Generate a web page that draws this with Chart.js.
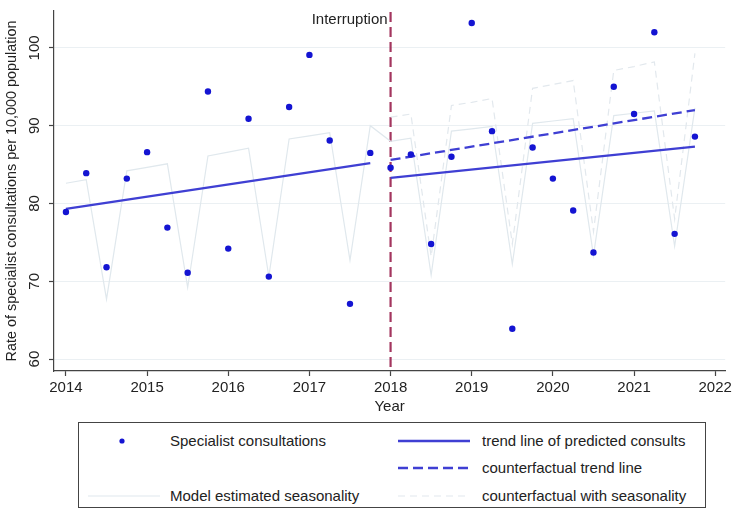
<!DOCTYPE html>
<html>
<head>
<meta charset="utf-8">
<script src="https://cdn.jsdelivr.net/npm/chart.js@4.4.1/dist/chart.umd.min.js"></script>
<style>
html,body{margin:0;padding:0;background:#fff;}
body{width:735px;height:523px;position:relative;overflow:hidden;font-family:"Liberation Sans",Arial,sans-serif;}
#c{position:absolute;left:0;top:0;}
#legendBox{position:absolute;left:78px;top:422px;width:628px;height:86px;border:1px solid #444;box-sizing:border-box;}
.sw{position:absolute;}
.lt{position:absolute;font-size:15px;line-height:18px;color:#222;white-space:nowrap;}
</style>
</head>
<body>
<canvas id="c" width="735" height="420"></canvas>
<div id="legendBox"></div>
<div id="legend"></div>
<script>
// ---- data ----
const quarters = [2014, 2014.25, 2014.5, 2014.75, 2015, 2015.25, 2015.5, 2015.75,
                  2016, 2016.25, 2016.5, 2016.75, 2017, 2017.25, 2017.5, 2017.75,
                  2018, 2018.25, 2018.5, 2018.75, 2019, 2019.25, 2019.5, 2019.75,
                  2020, 2020.25, 2020.5, 2020.75, 2021, 2021.25, 2021.5, 2021.75];
const consults = [78.9, 83.9, 71.8, 83.2, 86.6, 76.9, 71.1, 94.4,
                  74.2, 90.9, 70.6, 92.4, 99.1, 88.1, 67.1, 86.5,
                  84.6, 86.3, 74.8, 86.0, 103.2, 89.3, 63.9, 87.2,
                  83.2, 79.1, 73.7, 95.0, 91.5, 102.0, 76.1, 88.6];
const seasonality = [82.6, 83.05, 67.7, 84.2, 84.65, 85.1, 69.2, 86.1,
                     86.6, 87.1, 70.6, 88.3, 88.7, 89.1, 72.7, 90.0,
                     88.0, 88.4, 70.8, 89.3, 89.6, 89.9, 72.2, 90.3,
                     90.6, 90.9, 73.3, 91.3, 91.6, 91.9, 74.5, 92.3];
const postQuarters = [2018, 2018.25, 2018.5, 2018.75, 2019, 2019.25, 2019.5, 2019.75,
                      2020, 2020.25, 2020.5, 2020.75, 2021, 2021.25, 2021.5, 2021.75];
const cfSeasonality = [91.1, 91.5, 73.2, 92.6, 93.0, 93.5, 74.8, 94.8,
                       95.3, 95.8, 76.4, 97.1, 97.6, 98.2, 78.0, 99.3];
const trendPreX = [2014, 2017.75];
const trendPreY = [79.3, 85.2];
const trendPostX = [2018, 2021.75];
const trendPostY = [83.3, 87.3];
const cfTrendX = [2018, 2021.75];
const cfTrendY = [85.6, 92.0];
const xTicks = [2014, 2015, 2016, 2017, 2018, 2019, 2020, 2021, 2022];
const yTicks = [60, 70, 80, 90, 100];
const interruptionYear = 2018;
const interruptionLabel = 'Interruption';
const labels = {
  consults: 'Specialist consultations',
  trend: 'trend line of predicted consults',
  cfTrend: 'counterfactual trend line',
  season: 'Model estimated seasonality',
  cfSeason: 'counterfactual with seasonality'
};
const xTitle = 'Year';
const yTitle = 'Rate of specialist consultations per 10,000 population';

// ---- styles ----
const FONT = '"Liberation Sans", Arial, sans-serif';
const pointColor = '#1414d2';
const trendColor = '#3f3fd3';
const seasonColor = '#e0e8ed';
const cfSeasonColor = '#e2e8ed';

const pts = (xs, ys) => xs.map((x, i) => ({x: x, y: ys[i]}));

const interruptionPlugin = {
  id: 'interruption',
  beforeDatasetsDraw(chart) {
    const {ctx, chartArea, scales} = chart;
    const px = scales.x.getPixelForValue(interruptionYear);
    ctx.save();
    ctx.strokeStyle = '#a3365f';
    ctx.lineWidth = 2.2;
    ctx.setLineDash([10, 5]);
    ctx.beginPath();
    ctx.moveTo(px, chartArea.top + 1);
    ctx.lineTo(px, chartArea.bottom);
    ctx.stroke();
    ctx.setLineDash([]);
    ctx.fillStyle = '#222';
    ctx.font = '15px ' + FONT;
    ctx.textAlign = 'right';
    ctx.textBaseline = 'middle';
    ctx.fillText(interruptionLabel, px - 3, chartArea.top + 9);
    ctx.restore();
  }
};

const chart = new Chart(document.getElementById('c'), {
  type: 'scatter',
  data: {
    datasets: [
      {label: labels.consults, data: pts(quarters, consults), showLine: false,
       pointRadius: 3.2, pointBackgroundColor: pointColor, pointBorderWidth: 0, pointBorderColor: pointColor},
      {label: labels.trend, data: pts(trendPreX, trendPreY), showLine: true, pointRadius: 0,
       borderColor: trendColor, borderWidth: 2.3},
      {label: labels.trend, data: pts(trendPostX, trendPostY), showLine: true, pointRadius: 0,
       borderColor: trendColor, borderWidth: 2.3},
      {label: labels.cfTrend, data: pts(cfTrendX, cfTrendY), showLine: true, pointRadius: 0,
       borderColor: trendColor, borderWidth: 2.3, borderDash: [10, 5]},
      {label: labels.season, data: pts(quarters, seasonality), showLine: true, pointRadius: 0,
       borderColor: seasonColor, borderWidth: 1.2},
      {label: labels.cfSeason, data: pts(postQuarters, cfSeasonality), showLine: true, pointRadius: 0,
       borderColor: cfSeasonColor, borderWidth: 1.2, borderDash: [7, 5]}
    ]
  },
  options: {
    responsive: false,
    animation: false,
    devicePixelRatio: 1,
    layout: {padding: {left: 0, right: 7, top: 7, bottom: 0}},
    plugins: {legend: {display: false}, tooltip: {enabled: false}},
    scales: {
      x: {
        type: 'linear', min: 2013.853, max: 2022.123,
        afterBuildTicks: s => { s.ticks = xTicks.map(v => ({value: v})); },
        afterFit: s => { s.height = 49; },
        grid: {drawOnChartArea: false, drawTicks: true, tickLength: 5, tickColor: '#444', tickWidth: 1.2},
        border: {display: true, color: '#444', width: 1.2},
        ticks: {font: {family: FONT, size: 15}, color: '#222', padding: 3, maxRotation: 0,
                callback: v => String(v)},
        title: {display: true, text: xTitle, font: {family: FONT, size: 15}, color: '#222',
                padding: {top: 0, bottom: 4}}
      },
      y: {
        type: 'linear', min: 58.47, max: 104.74,
        afterBuildTicks: s => { s.ticks = yTicks.map(v => ({value: v})); },
        afterFit: s => { s.width = 54; },
        grid: {color: '#ebf0f3', lineWidth: 1, drawTicks: true, tickLength: 5, tickColor: '#444', tickWidth: 1.2},
        border: {display: true, color: '#444', width: 1.2},
        ticks: {font: {family: FONT, size: 15}, color: '#222', padding: 2, minRotation: 90, maxRotation: 90,
                crossAlign: 'center', callback: v => String(v)},
        title: {display: true, text: yTitle, font: {family: FONT, size: 14.4}, color: '#222',
                padding: {top: 3, bottom: 0}}
      }
    }
  },
  plugins: [interruptionPlugin]
});

// ---- legend (HTML, from dataset styles) ----
(function buildLegend() {
  const ds = chart.data.datasets;
  const L = document.getElementById('legend');
  const rows = [441, 468, 496];
  const items = [
    {ds: ds[0], col: 0, row: 0, kind: 'point'},
    {ds: ds[1], col: 1, row: 0, kind: 'line'},
    {ds: ds[3], col: 1, row: 1, kind: 'line'},
    {ds: ds[4], col: 0, row: 2, kind: 'line'},
    {ds: ds[5], col: 1, row: 2, kind: 'line'}
  ];
  const cols = [{sw: 88, tx: 170}, {sw: 398, tx: 482}];
  items.forEach(it => {
    const y = rows[it.row];
    const c = cols[it.col];
    const ns = 'http://www.w3.org/2000/svg';
    const svg = document.createElementNS(ns, 'svg');
    svg.setAttribute('width', 72); svg.setAttribute('height', 10);
    svg.setAttribute('class', 'sw');
    svg.style.left = c.sw + 'px'; svg.style.top = (y - 5) + 'px';
    if (it.kind === 'point') {
      const ci = document.createElementNS(ns, 'circle');
      ci.setAttribute('cx', 34); ci.setAttribute('cy', 5); ci.setAttribute('r', 2.6);
      ci.setAttribute('fill', it.ds.pointBackgroundColor);
      svg.appendChild(ci);
    } else {
      const ln = document.createElementNS(ns, 'line');
      ln.setAttribute('x1', 0); ln.setAttribute('x2', 72);
      ln.setAttribute('y1', 5); ln.setAttribute('y2', 5);
      ln.setAttribute('stroke', it.ds.borderColor);
      ln.setAttribute('stroke-width', it.ds.borderWidth);
      if (it.ds.borderDash) ln.setAttribute('stroke-dasharray', it.ds.borderDash.join(','));
      svg.appendChild(ln);
    }
    L.appendChild(svg);
    const t = document.createElement('div');
    t.className = 'lt';
    t.textContent = it.ds.label;
    t.style.left = c.tx + 'px';
    t.style.top = (y - 9) + 'px';
    L.appendChild(t);
  });
})();
</script>
</body>
</html>
